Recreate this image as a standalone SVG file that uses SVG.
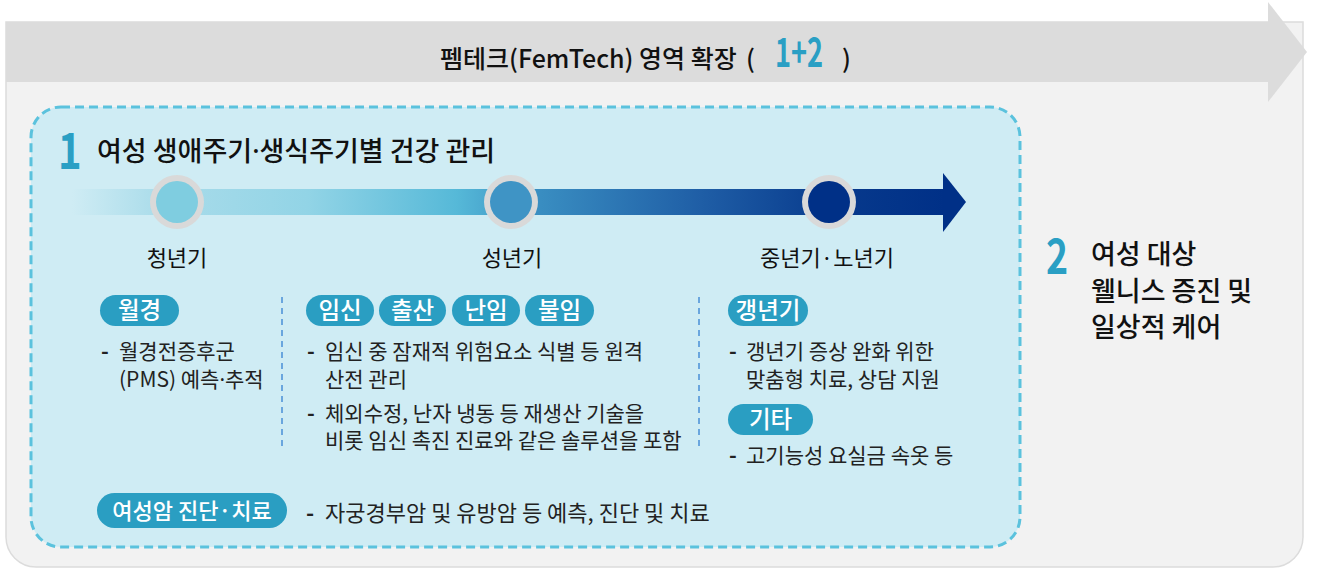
<svg xmlns="http://www.w3.org/2000/svg" width="1322" height="569" viewBox="0 0 1322 569">
  <style>
    text { font-family: "Noto Sans CJK KR", "Noto Sans", sans-serif; }
    .hdr { font-size: 25px; fill: #111; font-weight: 500; }
    .ttl { font-size: 27px; fill: #111; font-weight: 500; }
    .stage { font-size: 22px; fill: #111; }
    .pill { fill: #2a9ec2; }
    .pilltxt { font-size: 23.5px; fill: #fff; font-weight: 500; text-anchor: middle; }
    .body { font-size: 21px; fill: #222; }
    .big { font-size: 22px; }
    .pillsm { font-size: 22px; }
    .dash { font-weight: 700; }
    .mid { font-family: "Noto Sans", sans-serif; }
    .num { font-weight: 700; fill: #2a9fc4; }
    .vdash { stroke: #4a8fd6; stroke-width: 1.5; stroke-dasharray: 6 5; fill: none; }
    .ring { fill: #d9d9d9; }
  </style>
  <defs>
    <linearGradient id="bar" gradientUnits="userSpaceOnUse" x1="72" y1="0" x2="945" y2="0">
      <stop offset="0" stop-color="#cfecf4"/>
      <stop offset="0.1" stop-color="#aadcea"/>
      <stop offset="0.27" stop-color="#92d4e6"/>
      <stop offset="0.44" stop-color="#56b9d8"/>
      <stop offset="0.53" stop-color="#3a8fc2"/>
      <stop offset="0.72" stop-color="#1f5ea6"/>
      <stop offset="0.88" stop-color="#07398c"/>
      <stop offset="1" stop-color="#003087"/>
    </linearGradient>
  </defs>

  <!-- outer panel -->
  <g id="panel">
    <path d="M6,22 H1303 V537 A30,30 0 0 1 1273,567 H36 A30,30 0 0 1 6,537 Z" fill="#f2f2f2" stroke="#dcdcdc" stroke-width="1.5"/>
    <rect x="6" y="22" width="1262" height="60" fill="#dcdcdc"/>
    <polygon points="1268,2 1307,52 1268,102" fill="#dcdcdc"/>
    <text class="hdr" x="440" y="68">펨테크(FemTech) 영역 확장</text>
    <text class="hdr" x="746" y="68">(</text>
    <text class="num" style="font-size:40px" transform="translate(775,67) scale(0.68,1)">1+2</text>
    <text class="hdr" x="842" y="68">)</text>
  </g>

  <!-- section 1 box -->
  <g id="section1">
    <rect x="31" y="107" width="989" height="440" rx="30" fill="#cfecf4" stroke="#5bc2dd" stroke-width="3" stroke-dasharray="9 5"/>
    <text class="num" style="font-size:50px" transform="translate(58,169) scale(0.8,1)">1</text>
    <text class="ttl" x="97" y="161">여성 생애주기<tspan class="mid">·</tspan>생식주기별 건강 관리</text>
  </g>

  <!-- timeline -->
  <g id="timeline">
    <rect x="72" y="189" width="872" height="26" fill="url(#bar)"/>
    <polygon points="943,173 966,202 943,232" fill="#003087"/>
  </g>

  <g id="stage-youth">
    <circle class="ring" cx="177" cy="202" r="27"/>
    <circle cx="177" cy="202" r="21" fill="#7fcde0"/>
    <text class="stage" x="177" y="266" text-anchor="middle">청년기</text>
  </g>
  <g id="stage-adult">
    <circle class="ring" cx="511" cy="202" r="27"/>
    <circle cx="511" cy="202" r="21" fill="#3f94c5"/>
    <text class="stage" x="512" y="266" text-anchor="middle">성년기</text>
  </g>
  <g id="stage-senior">
    <circle class="ring" cx="829" cy="202" r="27"/>
    <circle cx="829" cy="202" r="21" fill="#003087"/>
    <text class="stage" x="827" y="266" text-anchor="middle">중년기·노년기</text>
  </g>

  <g id="dividers">
    <line class="vdash" x1="282" y1="297" x2="282" y2="447"/>
    <line class="vdash" x1="699" y1="297" x2="699" y2="447"/>
  </g>

  <!-- 월경 -->
  <g id="menstruation">
    <rect class="pill" x="100" y="295" width="79" height="31" rx="15.5"/>
    <text class="pilltxt" x="139.5" y="319">월경</text>
    <text class="body" y="359"><tspan class="dash" x="101">-</tspan><tspan x="119">월경전증후군</tspan></text>
    <text class="body" x="119" y="387">(PMS) 예측<tspan class="mid">·</tspan>추적</text>
  </g>

  <!-- 임신 출산 난임 불임 -->
  <g id="pregnancy">
    <rect class="pill" x="306" y="295" width="68" height="31" rx="15.5"/>
    <text class="pilltxt" x="340" y="319">임신</text>
    <rect class="pill" x="379" y="295" width="67" height="31" rx="15.5"/>
    <text class="pilltxt" x="412.5" y="319">출산</text>
    <rect class="pill" x="452" y="295" width="68" height="31" rx="15.5"/>
    <text class="pilltxt" x="486" y="319">난임</text>
    <rect class="pill" x="525" y="295" width="69" height="31" rx="15.5"/>
    <text class="pilltxt" x="559.5" y="319">불임</text>
    <text class="body" y="359"><tspan class="dash" x="307">-</tspan><tspan x="325">임신 중 잠재적 위험요소 식별 등 원격</tspan></text>
    <text class="body" x="325" y="387">산전 관리</text>
    <text class="body" y="421"><tspan class="dash" x="307">-</tspan><tspan x="325">체외수정, 난자 냉동 등 재생산 기술을</tspan></text>
    <text class="body" x="325" y="448">비롯 임신 촉진 진료와 같은 솔루션을 포함</text>
  </g>

  <!-- 갱년기 / 기타 -->
  <g id="menopause">
    <rect class="pill" x="728" y="295" width="80" height="31" rx="15.5"/>
    <text class="pilltxt" x="768" y="319">갱년기</text>
    <text class="body" y="359"><tspan class="dash" x="729">-</tspan><tspan x="746">갱년기 증상 완화 위한</tspan></text>
    <text class="body" x="746" y="387">맞춤형 치료, 상담 지원</text>
  </g>
  <g id="others">
    <rect class="pill" x="728" y="404" width="85" height="31" rx="15.5"/>
    <text class="pilltxt" x="770.5" y="428">기타</text>
    <text class="body" y="463"><tspan class="dash" x="729">-</tspan><tspan x="746">고기능성 요실금 속옷 등</tspan></text>
  </g>

  <!-- 여성암 -->
  <g id="cancer">
    <rect class="pill" x="97" y="493" width="190" height="35" rx="17.5"/>
    <text class="pilltxt pillsm" x="192" y="519">여성암 진단·치료</text>
    <text class="body big" y="521"><tspan class="dash" x="306">-</tspan><tspan x="325">자궁경부암 및 유방암 등 예측, 진단 및 치료</tspan></text>
  </g>

  <!-- section 2 -->
  <g id="section2">
    <text class="num" style="font-size:48px" transform="translate(1046,274) scale(0.78,1)">2</text>
    <text class="ttl" x="1091" y="264">여성 대상</text>
    <text class="ttl" x="1091" y="301">웰니스 증진 및</text>
    <text class="ttl" x="1091" y="337">일상적 케어</text>
  </g>
</svg>
